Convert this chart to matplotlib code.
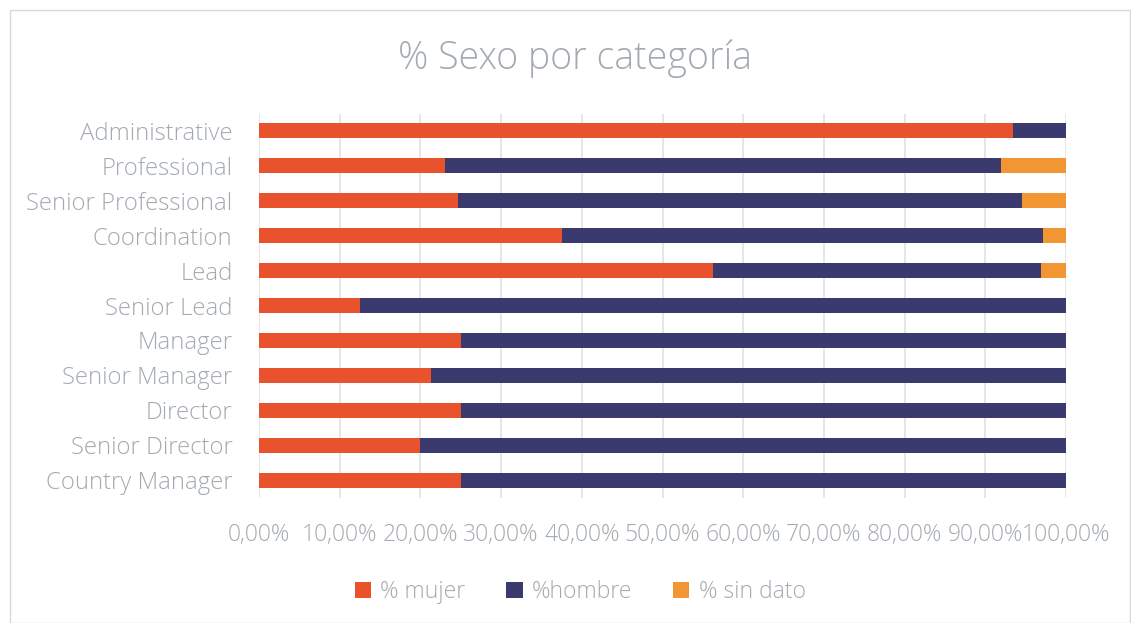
import matplotlib.pyplot as plt
from matplotlib.patches import Rectangle

categorias = ['Administrative', 'Professional', 'Senior Professional', 'Coordination', 'Lead',
              'Senior Lead', 'Manager', 'Senior Manager', 'Director', 'Senior Director',
              'Country Manager']
mujer = [93.4, 23.1, 24.7, 37.5, 56.3, 12.5, 25.0, 21.3, 25.0, 20.0, 25.0]
hombre = [6.6, 68.8, 69.9, 59.7, 40.6, 87.5, 75.0, 78.7, 75.0, 80.0, 75.0]
sin_dato = [0.0, 8.1, 5.4, 2.8, 3.1, 0.0, 0.0, 0.0, 0.0, 0.0, 0.0]
ticks = [0, 10, 20, 30, 40, 50, 60, 70, 80, 90, 100]

GRIS = '#A3AAB1'
plt.rcParams['font.family'] = ['Open Sans', 'DejaVu Sans']

fig = plt.figure(figsize=(11.31, 6.23), dpi=100)
ax = fig.add_axes([0.229, 0.2014, 0.7136, 0.6164])

y = list(range(len(categorias)))
left2 = [a + b for a, b in zip(mujer, hombre)]
ax.barh(y, mujer, height=0.43, color='#E8532E', label='% mujer', zorder=2)
ax.barh(y, hombre, left=mujer, height=0.43, color='#3A3A6E', label='%hombre', zorder=2)
ax.barh(y, sin_dato, left=left2, height=0.43, color='#F19633', label='% sin dato', zorder=2)

ax.set_xlim(0, 100)
ax.set_ylim(len(categorias) - 0.5, -0.5)
ax.set_yticks(y)
ax.set_yticklabels(categorias, fontsize=17.2, color=GRIS, fontweight='light')
ax.set_xticks(ticks)
ax.set_xticklabels(['{:.2f}%'.format(t).replace('.', ',') for t in ticks],
                   fontsize=16.5, color=GRIS, fontweight='light')
ax.tick_params(axis='both', length=0)
ax.tick_params(axis='y', pad=19)
ax.tick_params(axis='x', pad=18)
ax.grid(axis='x', color='#E2E2E2', linewidth=1.2, zorder=0)
for s in ax.spines.values():
    s.set_visible(False)

fig.text(0.508, 0.905, '% Sexo por categoría', ha='center', va='center',
         fontsize=27, color=GRIS, fontweight='light')

ax.legend(loc='center', bbox_to_anchor=(0.513, 0.05), bbox_transform=fig.transFigure,
          ncol=3, frameon=False, labelcolor=GRIS,
          handlelength=0.7, handleheight=0.7, handletextpad=0.4, columnspacing=1.8,
          prop={'weight': 'light', 'size': 16.5})

fig.patches.append(Rectangle((0.009, 0.0), 0.99, 0.984, transform=fig.transFigure,
                             fill=False, edgecolor='#D9D9D9', linewidth=1))

fig.savefig('out.png', dpi=100)
